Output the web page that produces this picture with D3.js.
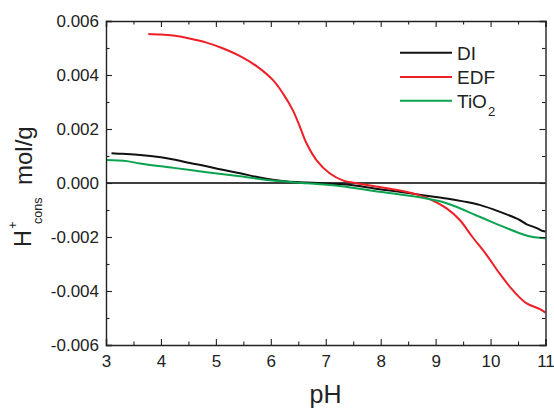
<!DOCTYPE html>
<html>
<head>
<meta charset="utf-8">
<script src="https://cdn.jsdelivr.net/npm/d3@7"></script>
<style>
  html, body { margin: 0; padding: 0; background: #fff; }
  svg { display: block; font-family: "Liberation Sans", Arial, sans-serif; }
</style>
</head>
<body>
<svg id="chart" width="554" height="408"></svg>
<script>
// pH values and consumed H+ (mol/g) for each suspension
const diPH   = [3.1, 3.3, 3.62, 4.0, 4.23, 4.53, 4.83, 5.1, 5.44, 5.8, 6.04, 6.3, 6.65, 7.0, 7.25, 7.6, 7.98, 8.4, 8.8, 9.2, 9.5, 9.8, 10.16, 10.53, 10.65, 10.84, 10.95, 11.0];
const diVal  = [0.00110, 0.00108, 0.00104, 0.00095, 0.00087, 0.00074, 0.00062, 0.00050, 0.00036, 0.00020, 0.00012, 0.00006, 0.00002, -0.00002, -0.00004, -0.00011, -0.00023, -0.00034, -0.00046, -0.00057, -0.00068, -0.00081, -0.00106, -0.00137, -0.00152, -0.00167, -0.00178, -0.00180];

const edfPH  = [3.77, 4.0, 4.22, 4.5, 4.83, 5.1, 5.44, 5.74, 6.04, 6.22, 6.4, 6.53, 6.65, 6.83, 7.07, 7.32, 7.56, 7.98, 8.35, 8.71, 8.95, 9.2, 9.44, 9.67, 9.93, 10.16, 10.4, 10.65, 10.9, 11.0];
const edfVal = [0.00552, 0.00550, 0.00546, 0.00536, 0.00520, 0.00501, 0.00470, 0.00433, 0.00381, 0.00332, 0.00270, 0.00208, 0.00147, 0.00085, 0.00036, 0.00009, -0.00001, -0.00015, -0.00028, -0.00046, -0.00065, -0.00094, -0.00137, -0.00200, -0.00267, -0.00334, -0.00396, -0.00445, -0.00467, -0.00480];

const tioPH  = [3.0, 3.38, 3.62, 4.23, 4.83, 5.44, 6.04, 6.65, 7.25, 7.98, 8.71, 9.2, 9.8, 10.16, 10.53, 10.75, 11.0];
const tioVal = [0.00085, 0.00081, 0.00072, 0.00056, 0.00040, 0.00025, 0.00009, -0.00001, -0.00011, -0.00032, -0.00053, -0.00075, -0.00125, -0.00156, -0.00186, -0.00199, -0.00205];

const xTicks = [3, 4, 5, 6, 7, 8, 9, 10, 11];
const yTicks = [-0.006, -0.004, -0.002, 0.000, 0.002, 0.004, 0.006];

const seriesNames  = ["DI", "EDF", "TiO2"];
const seriesColors = ["#111111", "#ee1f26", "#0aa34f"];

const svg = d3.select("#chart");
const plotL = 106, plotR = 545.5, plotT = 21, plotB = 345;
const ink = "#222";

const x = d3.scaleLinear().domain([3, 11]).range([plotL, plotR]);
const y = d3.scaleLinear().domain([-0.006, 0.006]).range([plotB, plotT]);

const g = svg.append("g");

// zero reference line
g.append("line")
  .attr("x1", plotL).attr("x2", plotR)
  .attr("y1", y(0)).attr("y2", y(0))
  .attr("stroke", "#000").attr("stroke-width", 1.6);

// curves
const line = d3.line().x(d => x(d[0])).y(d => y(d[1])).curve(d3.curveCatmullRom.alpha(0.5));
const data = [
  d3.zip(diPH, diVal),
  d3.zip(edfPH, edfVal),
  d3.zip(tioPH, tioVal)
];
data.forEach((d, i) => {
  g.append("path")
    .datum(d)
    .attr("fill", "none")
    .attr("stroke", seriesColors[i])
    .attr("stroke-width", 2)
    .attr("stroke-linejoin", "round")
    .attr("d", line);
});

// frame with inward ticks on all four sides
const minorX = d3.range(3.5, 11, 1);
const minorY = d3.range(-0.005, 0.006, 0.002);
const styleAxis = sel => {
  sel.selectAll("path.domain").attr("stroke", ink).attr("stroke-width", 1.4);
  sel.selectAll(".tick line").attr("stroke", ink).attr("stroke-width", 1.1);
};
function addMinor(sel, axisFn, scale, values) {
  sel.append("g").call(axisFn(scale).tickValues(values).tickSize(-3.5).tickFormat(""))
    .call(s => s.select(".domain").remove())
    .selectAll(".tick line").attr("stroke", ink).attr("stroke-width", 1.1);
}

const gb = svg.append("g").attr("transform", `translate(0,${plotB})`)
  .call(d3.axisBottom(x).tickValues(xTicks).tickSize(-6).tickPadding(9.5).tickFormat(d3.format("d")));
gb.call(styleAxis);
gb.selectAll("text").attr("font-size", 17).attr("fill", ink);
addMinor(gb, d3.axisBottom, x, minorX);

const gt = svg.append("g").attr("transform", `translate(0,${plotT})`)
  .call(d3.axisTop(x).tickValues(xTicks).tickSize(-6).tickFormat(""));
gt.call(styleAxis);
addMinor(gt, d3.axisTop, x, minorX);

const gl = svg.append("g").attr("transform", `translate(${plotL},0)`)
  .call(d3.axisLeft(y).tickValues(yTicks).tickSize(-6).tickPadding(7));
gl.call(styleAxis);
gl.selectAll("text").attr("font-size", 17).attr("fill", ink)
  .text(d => d3.format(".3f")(d).replace("\u2212", "-"));
addMinor(gl, d3.axisLeft, y, minorY);

const gr = svg.append("g").attr("transform", `translate(${plotR},0)`)
  .call(d3.axisRight(y).tickValues(yTicks).tickSize(-6).tickFormat(""));
gr.call(styleAxis);
addMinor(gr, d3.axisRight, y, minorY);

// axis titles
svg.append("text")
  .attr("x", 325.5).attr("y", 403)
  .attr("text-anchor", "middle")
  .attr("font-size", 25).attr("fill", ink)
  .text("pH");

// rotated y title: H with stacked superscript + and subscript "cons"
const yt = svg.append("text")
  .attr("transform", "rotate(-90)")
  .attr("fill", ink);
yt.append("tspan").attr("x", -247).attr("y", 30.5).attr("font-size", 23.5).text("H");
yt.append("tspan").attr("x", -229).attr("y", 16.5).attr("font-size", 13).text("+");
yt.append("tspan").attr("x", -224).attr("y", 41.5).attr("font-size", 12.5).text("cons");
yt.append("tspan").attr("x", -185).attr("y", 31.5).attr("font-size", 24).text("mol/g");

// legend
const legend = svg.append("g");
const legendY = [52.7, 77, 100.7];
seriesNames.forEach((name, i) => {
  legend.append("line")
    .attr("x1", 400).attr("x2", 452)
    .attr("y1", legendY[i]).attr("y2", legendY[i])
    .attr("stroke", seriesColors[i]).attr("stroke-width", 2);
  const t = legend.append("text")
    .attr("x", 457).attr("y", legendY[i] + 7.3)
    .attr("font-size", 19).attr("fill", ink);
  if (name === "TiO2") {
    t.append("tspan").text("TiO");
    t.append("tspan").attr("font-size", 13).attr("dy", 8).attr("dx", 1).text("2");
  } else {
    t.text(name);
  }
});
</script>
</body>
</html>
